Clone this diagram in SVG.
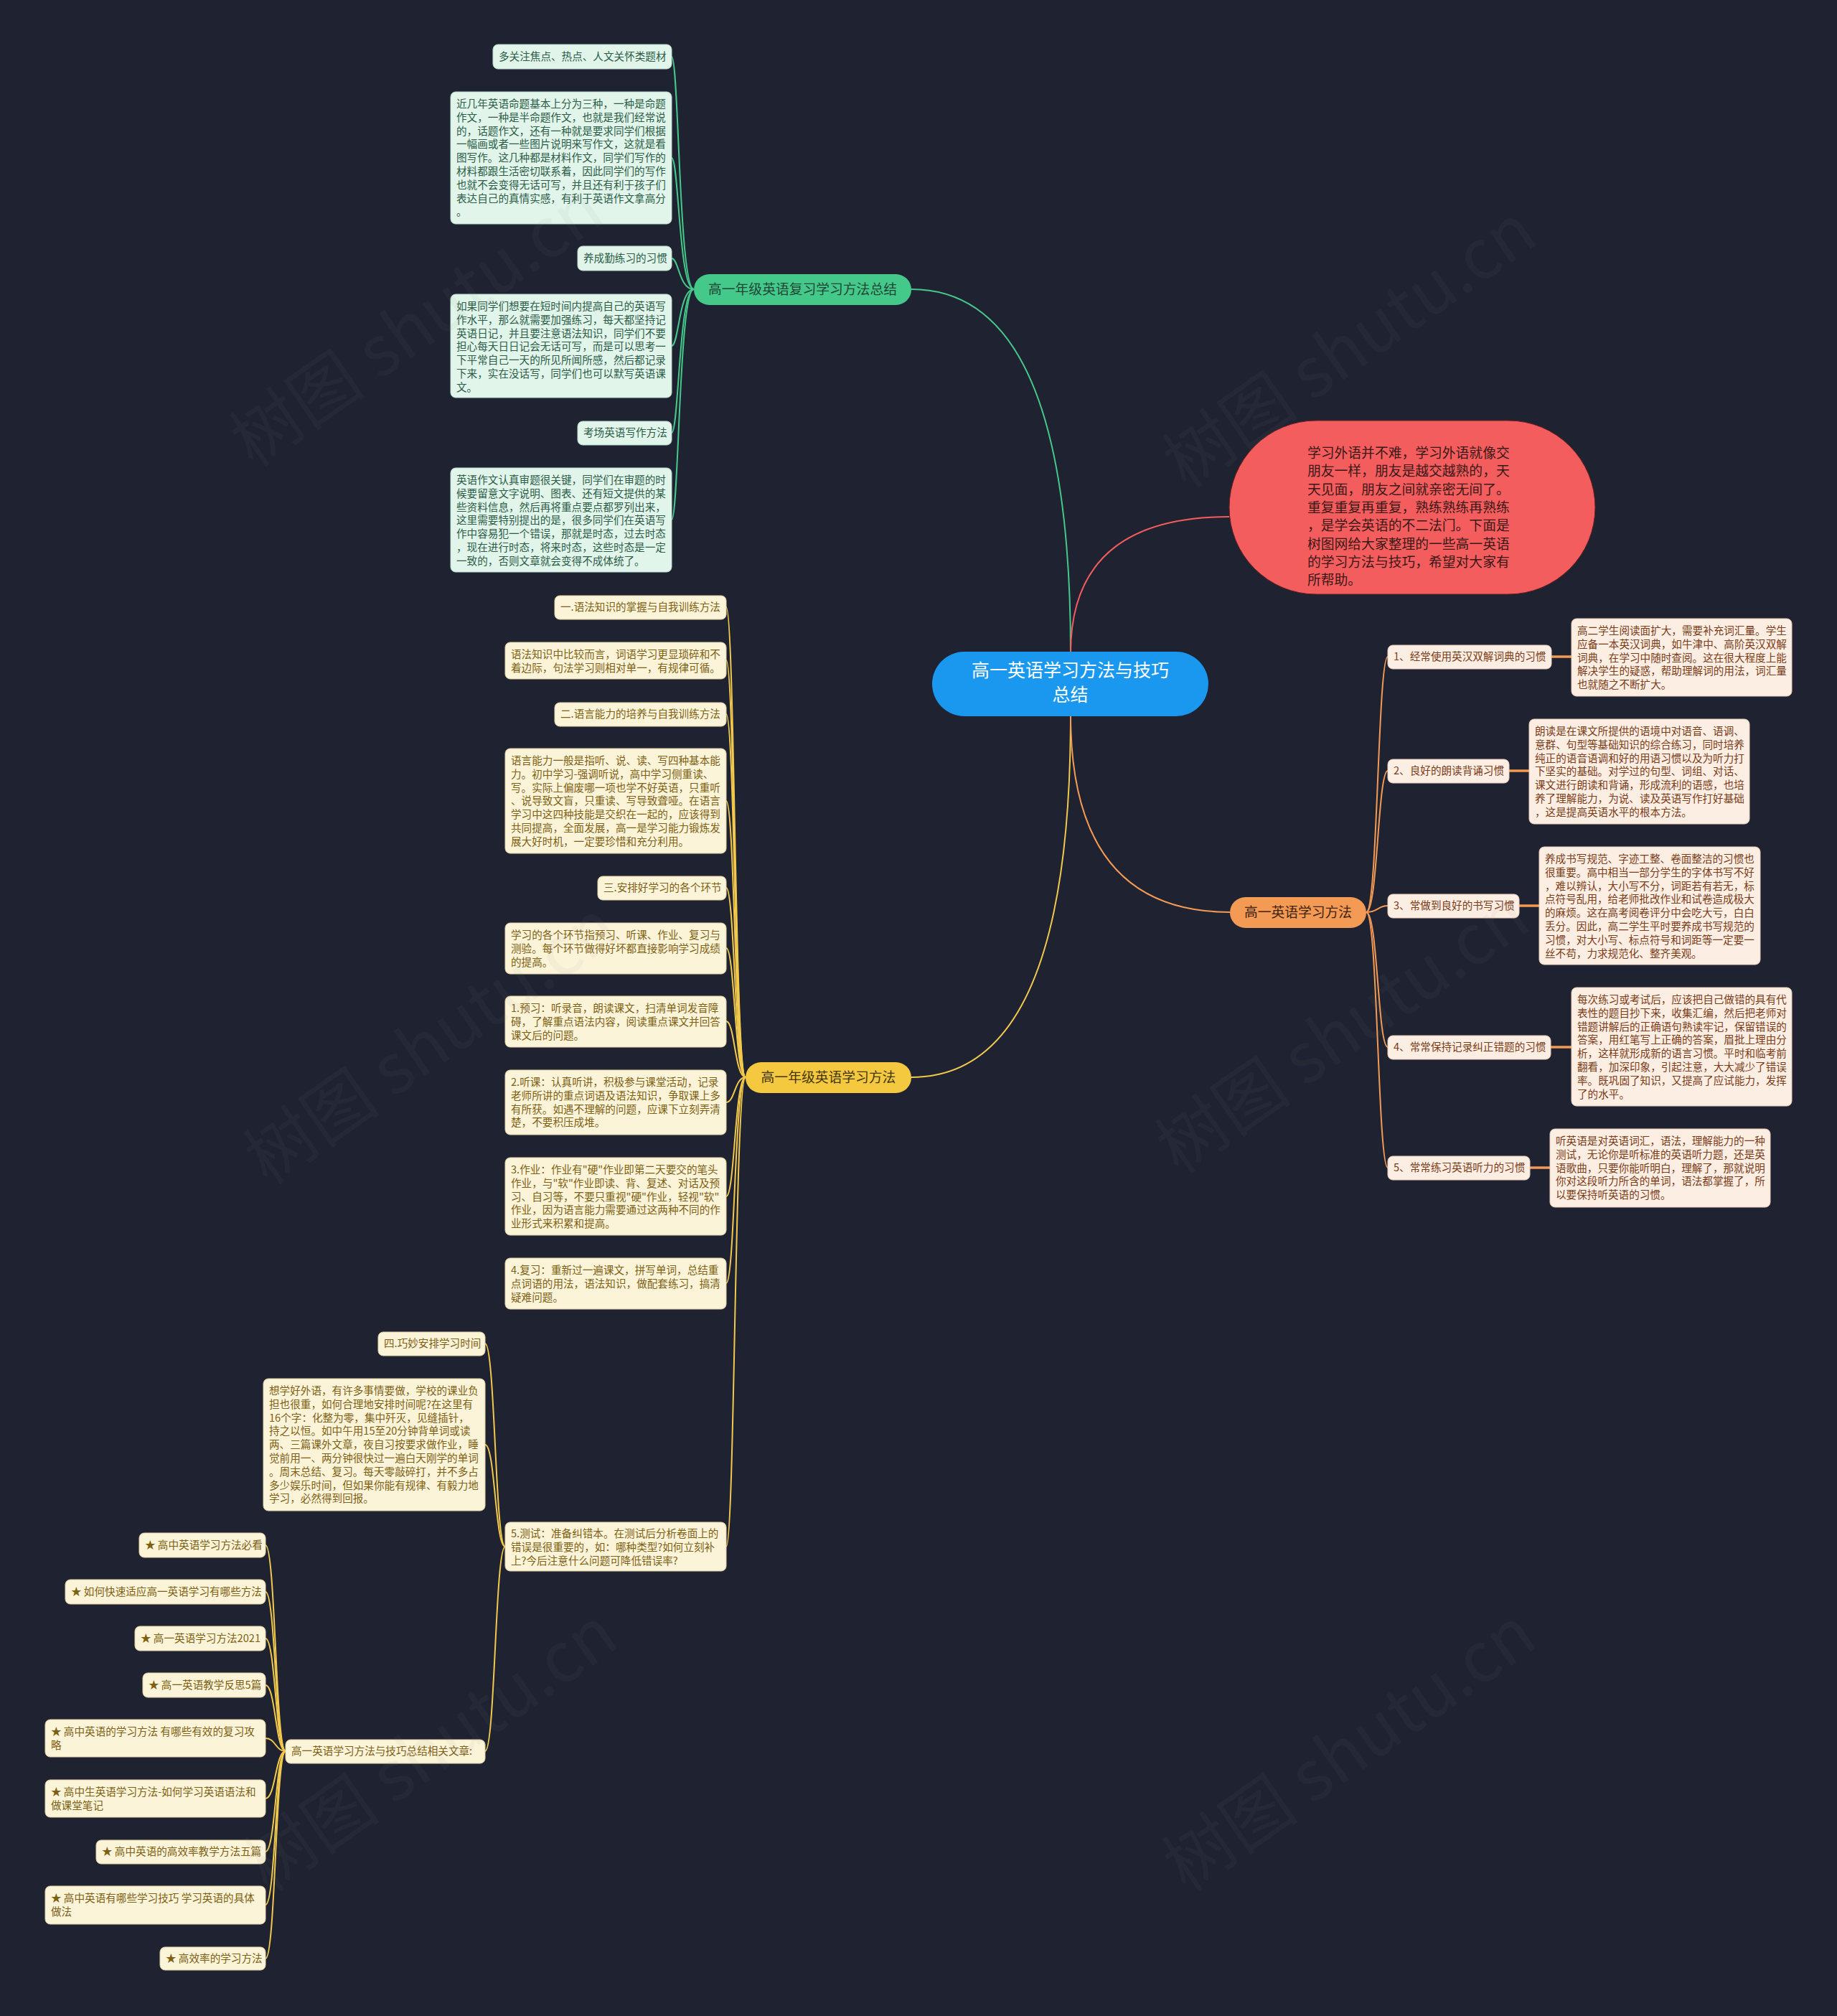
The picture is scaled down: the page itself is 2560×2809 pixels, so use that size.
<svg xmlns="http://www.w3.org/2000/svg" width="2560" height="2809" viewBox="0 0 2560 2809">
<style>
text{font-family:"Noto Sans CJK SC","Noto Sans",sans-serif;}
.t{font-size:14.6px;}
.gb{fill:#e1f5eb;stroke:#b9dccb;stroke-width:1}
.gt{fill:#2c5c47}
.yb{fill:#fcf4d9;stroke:#e2d3a4;stroke-width:1}
.yt{fill:#7d6012}
.ob{fill:#fdeee3;stroke:#e8cdb9;stroke-width:1}
.ot{fill:#7a3b17}
.gl{fill:none;stroke:#45c98b;stroke-width:2}
.yl{fill:none;stroke:#f2c94c;stroke-width:2}
.ol{fill:none;stroke:#f39a55;stroke-width:2}
.ol3{fill:none;stroke:#f39a55;stroke-width:3.5}
.rl{fill:none;stroke:#f25c5c;stroke-width:2}
.main{font-size:18.8px;text-anchor:middle}
.wm{font-size:96px;fill:#8a8a8a;opacity:0.06}
</style>
<rect x="0" y="0" width="2560" height="2809" fill="#1f2230"/>

<g id="connectors">
  <path class="gl" d="M1492,910 Q1492,403 1270,403"/>
  <path class="rl" d="M1492,910 Q1492,720 1713,720"/>
  <path class="yl" d="M1492,996 Q1492,1501 1270,1501"/>
  <path class="ol" d="M1492,996 Q1492,1271 1714,1271"/>
  <!-- green -->
  <path class="gl" d="M967,403 C946,403 946,79 936,79"/>
  <path class="gl" d="M967,403 C946,403 946,220 936,220"/>
  <path class="gl" d="M967,403 C946,403 946,360 936,360"/>
  <path class="gl" d="M967,403 C946,403 946,482 936,482"/>
  <path class="gl" d="M967,403 C946,403 946,603 936,603"/>
  <path class="gl" d="M967,403 C946,403 946,724 936,724"/>
  <!-- yellow -->
  <path class="yl" d="M1039,1501 C1024,1501 1024,846 1012,846"/>
  <path class="yl" d="M1039,1501 C1024,1501 1024,920 1012,920"/>
  <path class="yl" d="M1039,1501 C1024,1501 1024,995 1012,995"/>
  <path class="yl" d="M1039,1501 C1024,1501 1024,1116 1012,1116"/>
  <path class="yl" d="M1039,1501 C1024,1501 1024,1237 1012,1237"/>
  <path class="yl" d="M1039,1501 C1024,1501 1024,1321 1012,1321"/>
  <path class="yl" d="M1039,1501 C1024,1501 1024,1423 1012,1423"/>
  <path class="yl" d="M1039,1501 C1024,1501 1024,1536 1012,1536"/>
  <path class="yl" d="M1039,1501 C1024,1501 1024,1667 1012,1667"/>
  <path class="yl" d="M1039,1501 C1024,1501 1024,1788 1012,1788"/>
  <path class="yl" d="M1039,1501 C1024,1501 1024,2155 1012,2155"/>
  <path class="yl" d="M704,2155 C690,2155 690,1872 676,1872"/>
  <path class="yl" d="M704,2155 C690,2155 690,2013 676,2013"/>
  <path class="yl" d="M704,2155 C690,2155 690,2440 676,2440"/>
  <path class="yl" d="M398,2440 C384,2440 384,2153 370,2153"/>
  <path class="yl" d="M398,2440 C384,2440 384,2218 370,2218"/>
  <path class="yl" d="M398,2440 C384,2440 384,2283 370,2283"/>
  <path class="yl" d="M398,2440 C384,2440 384,2348 370,2348"/>
  <path class="yl" d="M398,2440 C384,2440 384,2422 370,2422"/>
  <path class="yl" d="M398,2440 C384,2440 384,2506 370,2506"/>
  <path class="yl" d="M398,2440 C384,2440 384,2580 370,2580"/>
  <path class="yl" d="M398,2440 C384,2440 384,2654 370,2654"/>
  <path class="yl" d="M398,2440 C384,2440 384,2729 370,2729"/>
  <!-- orange -->
  <path class="ol" d="M1904,1271 C1920,1271 1920,915 1934,915"/>
  <path class="ol" d="M1904,1271 C1920,1271 1920,1074 1934,1074"/>
  <path class="ol" d="M1904,1271 C1920,1271 1920,1262 1934,1262"/>
  <path class="ol" d="M1904,1271 C1920,1271 1920,1459 1934,1459"/>
  <path class="ol" d="M1904,1271 C1920,1271 1920,1627 1934,1627"/>
  <path class="ol3" d="M2162,915 L2190,915"/>
  <path class="ol3" d="M2103,1074 L2131,1074"/>
  <path class="ol3" d="M2117,1262 L2145,1262"/>
  <path class="ol3" d="M2161,1459 L2190,1459"/>
  <path class="ol3" d="M2132,1627 L2160,1627"/>
</g>

<g id="root">
  <rect x="1299" y="908" width="385" height="90" rx="45" fill="#1a98f0"/>
  <text x="1491.5" y="943" font-size="25" fill="#ffffff" text-anchor="middle">高一英语学习方法与技巧</text>
  <text x="1491.5" y="977" font-size="25" fill="#ffffff" text-anchor="middle">总结</text>
</g>

<g id="intro">
  <rect x="1713" y="586" width="510" height="242" rx="121" fill="#f45d5d" stroke="#6a1f24" stroke-width="1"/>
  <text font-size="18.8" fill="#3a1818">
    <tspan x="1822" y="638">学习外语并不难，学习外语就像交</tspan>
    <tspan x="1822" dy="25.3">朋友一样，朋友是越交越熟的，天</tspan>
    <tspan x="1822" dy="25.3">天见面，朋友之间就亲密无间了。</tspan>
    <tspan x="1822" dy="25.3">重复重复再重复，熟练熟练再熟练</tspan>
    <tspan x="1822" dy="25.3">，是学会英语的不二法门。下面是</tspan>
    <tspan x="1822" dy="25.3">树图网给大家整理的一些高一英语</tspan>
    <tspan x="1822" dy="25.3">的学习方法与技巧，希望对大家有</tspan>
    <tspan x="1822" dy="25.3">所帮助。</tspan>
  </text>
</g>

<g id="branch-green">
  <rect x="967" y="382" width="303" height="43" rx="21.5" fill="#45c98b"/>
  <text class="main" x="1118.5" y="410" fill="#1e4634">高一年级英语复习学习方法总结</text>
</g>
<g id="g1"><rect class="gb" x="687" y="62" width="249" height="34" rx="7"/><text class="t gt" x="695" y="84">多关注焦点、热点、人文关怀类题材</text></g>
<g id="g2"><rect class="gb" x="628" y="128" width="308" height="184" rx="7"/>
  <text class="t gt"><tspan x="636" y="150">近几年英语命题基本上分为三种，一种是命题</tspan><tspan x="636" dy="18.8">作文，一种是半命题作文，也就是我们经常说</tspan><tspan x="636" dy="18.8">的，话题作文，还有一种就是要求同学们根据</tspan><tspan x="636" dy="18.8">一幅画或者一些图片说明来写作文，这就是看</tspan><tspan x="636" dy="18.8">图写作。这几种都是材料作文，同学们写作的</tspan><tspan x="636" dy="18.8">材料都跟生活密切联系着，因此同学们的写作</tspan><tspan x="636" dy="18.8">也就不会变得无话可写，并且还有利于孩子们</tspan><tspan x="636" dy="18.8">表达自己的真情实感，有利于英语作文拿高分</tspan><tspan x="636" dy="18.8">。</tspan></text></g>
<g id="g3"><rect class="gb" x="805" y="343" width="131" height="34" rx="7"/><text class="t gt" x="813" y="365">养成勤练习的习惯</text></g>
<g id="g4"><rect class="gb" x="628" y="410" width="308" height="144" rx="7"/>
  <text class="t gt"><tspan x="636" y="432">如果同学们想要在短时间内提高自己的英语写</tspan><tspan x="636" dy="18.8">作水平，那么就需要加强练习，每天都坚持记</tspan><tspan x="636" dy="18.8">英语日记，并且要注意语法知识，同学们不要</tspan><tspan x="636" dy="18.8">担心每天日日记会无话可写，而是可以思考一</tspan><tspan x="636" dy="18.8">下平常自己一天的所见所闻所感，然后都记录</tspan><tspan x="636" dy="18.8">下来，实在没话写，同学们也可以默写英语课</tspan><tspan x="636" dy="18.8">文。</tspan></text></g>
<g id="g5"><rect class="gb" x="805" y="587" width="131" height="33" rx="7"/><text class="t gt" x="813" y="608">考场英语写作方法</text></g>
<g id="g6"><rect class="gb" x="628" y="652" width="308" height="145" rx="7"/>
  <text class="t gt"><tspan x="636" y="674">英语作文认真审题很关键，同学们在审题的时</tspan><tspan x="636" dy="18.8">候要留意文字说明、图表、还有短文提供的某</tspan><tspan x="636" dy="18.8">些资料信息，然后再将重点要点都罗列出来，</tspan><tspan x="636" dy="18.8">这里需要特别提出的是，很多同学们在英语写</tspan><tspan x="636" dy="18.8">作中容易犯一个错误，那就是时态，过去时态</tspan><tspan x="636" dy="18.8">，现在进行时态，将来时态，这些时态是一定</tspan><tspan x="636" dy="18.8">一致的，否则文章就会变得不成体统了。</tspan></text></g>

<g id="branch-yellow">
  <rect x="1039" y="1480" width="231" height="43" rx="21.5" fill="#f5c93f"/>
  <text class="main" x="1154.5" y="1508" fill="#43350a">高一年级英语学习方法</text>
</g>
<g id="y1"><rect class="yb" x="773" y="830" width="239" height="33" rx="7"/><text class="t yt" x="781" y="851">一.语法知识的掌握与自我训练方法</text></g>
<g id="y2"><rect class="yb" x="704" y="895" width="308" height="51" rx="7"/>
  <text class="t yt"><tspan x="712" y="917">语法知识中比较而言，词语学习更显琐碎和不</tspan><tspan x="712" dy="18.8">着边际，句法学习则相对单一，有规律可循。</tspan></text></g>
<g id="y3"><rect class="yb" x="773" y="979" width="239" height="33" rx="7"/><text class="t yt" x="781" y="1000">二.语言能力的培养与自我训练方法</text></g>
<g id="y4"><rect class="yb" x="704" y="1043" width="308" height="146" rx="7"/>
  <text class="t yt"><tspan x="712" y="1065">语言能力一般是指听、说、读、写四种基本能</tspan><tspan x="712" dy="18.8">力。初中学习-强调听说，高中学习侧重读、</tspan><tspan x="712" dy="18.8">写。实际上偏废哪一项也学不好英语，只重听</tspan><tspan x="712" dy="18.8">、说导致文盲，只重读、写导致聋哑。在语言</tspan><tspan x="712" dy="18.8">学习中这四种技能是交织在一起的，应该得到</tspan><tspan x="712" dy="18.8">共同提高，全面发展，高一是学习能力锻炼发</tspan><tspan x="712" dy="18.8">展大好时机，一定要珍惜和充分利用。</tspan></text></g>
<g id="y5"><rect class="yb" x="833" y="1221" width="179" height="33" rx="7"/><text class="t yt" x="841" y="1242">三.安排好学习的各个环节</text></g>
<g id="y6"><rect class="yb" x="704" y="1286" width="308" height="71" rx="7"/>
  <text class="t yt"><tspan x="712" y="1308">学习的各个环节指预习、听课、作业、复习与</tspan><tspan x="712" dy="18.8">测验。每个环节做得好坏都直接影响学习成绩</tspan><tspan x="712" dy="18.8">的提高。</tspan></text></g>
<g id="y7"><rect class="yb" x="704" y="1388" width="308" height="71" rx="7"/>
  <text class="t yt"><tspan x="712" y="1410">1.预习：听录音，朗读课文，扫清单词发音障</tspan><tspan x="712" dy="18.8">碍，了解重点语法内容，阅读重点课文并回答</tspan><tspan x="712" dy="18.8">课文后的问题。</tspan></text></g>
<g id="y8"><rect class="yb" x="704" y="1491" width="308" height="90" rx="7"/>
  <text class="t yt"><tspan x="712" y="1513">2.听课：认真听讲，积极参与课堂活动，记录</tspan><tspan x="712" dy="18.8">老师所讲的重点词语及语法知识，争取课上多</tspan><tspan x="712" dy="18.8">有所获。如遇不理解的问题，应课下立刻弄清</tspan><tspan x="712" dy="18.8">楚，不要积压成堆。</tspan></text></g>
<g id="y9"><rect class="yb" x="704" y="1613" width="308" height="108" rx="7"/>
  <text class="t yt"><tspan x="712" y="1635">3.作业：作业有"硬"作业即第二天要交的笔头</tspan><tspan x="712" dy="18.8">作业，与"软"作业即读、背、复述、对话及预</tspan><tspan x="712" dy="18.8">习、自习等，不要只重视"硬"作业，轻视"软"</tspan><tspan x="712" dy="18.8">作业，因为语言能力需要通过这两种不同的作</tspan><tspan x="712" dy="18.8">业形式来积累和提高。</tspan></text></g>
<g id="y10"><rect class="yb" x="704" y="1753" width="308" height="71" rx="7"/>
  <text class="t yt"><tspan x="712" y="1775">4.复习：重新过一遍课文，拼写单词，总结重</tspan><tspan x="712" dy="18.8">点词语的用法，语法知识，做配套练习，搞清</tspan><tspan x="712" dy="18.8">疑难问题。</tspan></text></g>
<g id="y11"><rect class="yb" x="704" y="2121" width="308" height="68" rx="7"/>
  <text class="t yt"><tspan x="712" y="2142">5.测试：准备纠错本。在测试后分析卷面上的</tspan><tspan x="712" dy="18.8">错误是很重要的，如：哪种类型?如何立刻补</tspan><tspan x="712" dy="18.8">上?今后注意什么问题可降低错误率?</tspan></text></g>
<g id="y12"><rect class="yb" x="527" y="1856" width="149" height="33" rx="7"/><text class="t yt" x="535" y="1877">四.巧妙安排学习时间</text></g>
<g id="y13"><rect class="yb" x="367" y="1921" width="309" height="184" rx="7"/>
  <text class="t yt"><tspan x="375" y="1943">想学好外语，有许多事情要做，学校的课业负</tspan><tspan x="375" dy="18.8">担也很重，如何合理地安排时间呢?在这里有</tspan><tspan x="375" dy="18.8">16个字：化整为零，集中歼灭，见缝插针，</tspan><tspan x="375" dy="18.8">持之以恒。如中午用15至20分钟背单词或读</tspan><tspan x="375" dy="18.8">两、三篇课外文章，夜自习按要求做作业，睡</tspan><tspan x="375" dy="18.8">觉前用一、两分钟很快过一遍白天刚学的单词</tspan><tspan x="375" dy="18.8">。周末总结、复习。每天零敲碎打，并不多占</tspan><tspan x="375" dy="18.8">多少娱乐时间，但如果你能有规律、有毅力地</tspan><tspan x="375" dy="18.8">学习，必然得到回报。</tspan></text></g>
<g id="y14"><rect class="yb" x="398" y="2424" width="278" height="33" rx="7"/><text class="t yt" x="406" y="2445">高一英语学习方法与技巧总结相关文章:</text></g>
<g id="s1"><rect class="yb" x="194" y="2136" width="176" height="34" rx="7"/><text class="t yt" x="202" y="2158">★ 高中英语学习方法必看</text></g>
<g id="s2"><rect class="yb" x="91" y="2201" width="279" height="34" rx="7"/><text class="t yt" x="99" y="2223">★ 如何快速适应高一英语学习有哪些方法</text></g>
<g id="s3"><rect class="yb" x="188" y="2266" width="182" height="34" rx="7"/><text class="t yt" x="196" y="2288">★ 高一英语学习方法2021</text></g>
<g id="s4"><rect class="yb" x="199" y="2331" width="171" height="34" rx="7"/><text class="t yt" x="207" y="2353">★ 高一英语教学反思5篇</text></g>
<g id="s5"><rect class="yb" x="63" y="2396" width="307" height="52" rx="7"/>
  <text class="t yt"><tspan x="71" y="2418">★ 高中英语的学习方法 有哪些有效的复习攻</tspan><tspan x="71" dy="18.8">略</tspan></text></g>
<g id="s6"><rect class="yb" x="63" y="2480" width="307" height="52" rx="7"/>
  <text class="t yt"><tspan x="71" y="2502">★ 高中生英语学习方法-如何学习英语语法和</tspan><tspan x="71" dy="18.8">做课堂笔记</tspan></text></g>
<g id="s7"><rect class="yb" x="134" y="2564" width="236" height="33" rx="7"/><text class="t yt" x="142" y="2585">★ 高中英语的高效率教学方法五篇</text></g>
<g id="s8"><rect class="yb" x="63" y="2628" width="307" height="53" rx="7"/>
  <text class="t yt"><tspan x="71" y="2650">★ 高中英语有哪些学习技巧 学习英语的具体</tspan><tspan x="71" dy="18.8">做法</tspan></text></g>
<g id="s9"><rect class="yb" x="223" y="2713" width="147" height="32" rx="7"/><text class="t yt" x="231" y="2734">★ 高效率的学习方法</text></g>

<g id="branch-orange">
  <rect x="1714" y="1250" width="190" height="43" rx="21.5" fill="#f39a55"/>
  <text class="main" x="1809" y="1278" fill="#40220c">高一英语学习方法</text>
</g>
<g id="o1"><rect class="ob" x="1934" y="899" width="228" height="33" rx="7"/><text class="t ot" x="1942" y="920">1、经常使用英汉双解词典的习惯</text></g>
<g id="o1d"><rect class="ob" x="2190" y="862" width="307" height="108" rx="7"/>
  <text class="t ot"><tspan x="2198" y="884">高二学生阅读面扩大，需要补充词汇量。学生</tspan><tspan x="2198" dy="18.8">应备一本英汉词典，如牛津中、高阶英汉双解</tspan><tspan x="2198" dy="18.8">词典，在学习中随时查阅。这在很大程度上能</tspan><tspan x="2198" dy="18.8">解决学生的疑惑，帮助理解词的用法，词汇量</tspan><tspan x="2198" dy="18.8">也就随之不断扩大。</tspan></text></g>
<g id="o2"><rect class="ob" x="1934" y="1058" width="169" height="33" rx="7"/><text class="t ot" x="1942" y="1079">2、良好的朗读背诵习惯</text></g>
<g id="o2d"><rect class="ob" x="2131" y="1002" width="307" height="146" rx="7"/>
  <text class="t ot"><tspan x="2139" y="1024">朗读是在课文所提供的语境中对语音、语调、</tspan><tspan x="2139" dy="18.8">意群、句型等基础知识的综合练习，同时培养</tspan><tspan x="2139" dy="18.8">纯正的语音语调和好的用语习惯以及为听力打</tspan><tspan x="2139" dy="18.8">下坚实的基础。对学过的句型、词组、对话、</tspan><tspan x="2139" dy="18.8">课文进行朗读和背诵，形成流利的语感，也培</tspan><tspan x="2139" dy="18.8">养了理解能力，为说、读及英语写作打好基础</tspan><tspan x="2139" dy="18.8">，这是提高英语水平的根本方法。</tspan></text></g>
<g id="o3"><rect class="ob" x="1934" y="1246" width="183" height="33" rx="7"/><text class="t ot" x="1942" y="1267">3、常做到良好的书写习惯</text></g>
<g id="o3d"><rect class="ob" x="2145" y="1180" width="308" height="164" rx="7"/>
  <text class="t ot"><tspan x="2153" y="1202">养成书写规范、字迹工整、卷面整洁的习惯也</tspan><tspan x="2153" dy="18.8">很重要。高中相当一部分学生的字体书写不好</tspan><tspan x="2153" dy="18.8">，难以辨认，大小写不分，词距若有若无，标</tspan><tspan x="2153" dy="18.8">点符号乱用，给老师批改作业和试卷造成极大</tspan><tspan x="2153" dy="18.8">的麻烦。这在高考阅卷评分中会吃大亏，白白</tspan><tspan x="2153" dy="18.8">丢分。因此，高二学生平时要养成书写规范的</tspan><tspan x="2153" dy="18.8">习惯，对大小写、标点符号和词距等一定要一</tspan><tspan x="2153" dy="18.8">丝不苟，力求规范化、整齐美观。</tspan></text></g>
<g id="o4"><rect class="ob" x="1934" y="1443" width="227" height="33" rx="7"/><text class="t ot" x="1942" y="1464">4、常常保持记录纠正错题的习惯</text></g>
<g id="o4d"><rect class="ob" x="2190" y="1376" width="307" height="165" rx="7"/>
  <text class="t ot"><tspan x="2198" y="1398">每次练习或考试后，应该把自己做错的具有代</tspan><tspan x="2198" dy="18.8">表性的题目抄下来，收集汇编，然后把老师对</tspan><tspan x="2198" dy="18.8">错题讲解后的正确语句熟读牢记，保留错误的</tspan><tspan x="2198" dy="18.8">答案，用红笔写上正确的答案，眉批上理由分</tspan><tspan x="2198" dy="18.8">析，这样就形成新的语言习惯。平时和临考前</tspan><tspan x="2198" dy="18.8">翻看，加深印象，引起注意，大大减少了错误</tspan><tspan x="2198" dy="18.8">率。既巩固了知识，又提高了应试能力，发挥</tspan><tspan x="2198" dy="18.8">了的水平。</tspan></text></g>
<g id="o5"><rect class="ob" x="1934" y="1611" width="198" height="33" rx="7"/><text class="t ot" x="1942" y="1632">5、常常练习英语听力的习惯</text></g>
<g id="o5d"><rect class="ob" x="2160" y="1573" width="307" height="109" rx="7"/>
  <text class="t ot"><tspan x="2168" y="1595">听英语是对英语词汇，语法，理解能力的一种</tspan><tspan x="2168" dy="18.8">测试，无论你是听标准的英语听力题，还是英</tspan><tspan x="2168" dy="18.8">语歌曲，只要你能听明白，理解了，那就说明</tspan><tspan x="2168" dy="18.8">你对这段听力所含的单词，语法都掌握了，所</tspan><tspan x="2168" dy="18.8">以要保持听英语的习惯。</tspan></text></g>

<g id="watermark">
  <text class="wm" text-anchor="middle" transform="translate(600,480) rotate(-35)">树图 shutu.cn</text>
  <text class="wm" text-anchor="middle" transform="translate(1900,510) rotate(-35)">树图 shutu.cn</text>
  <text class="wm" text-anchor="middle" transform="translate(620,1480) rotate(-35)">树图 shutu.cn</text>
  <text class="wm" text-anchor="middle" transform="translate(1890,1465) rotate(-35)">树图 shutu.cn</text>
  <text class="wm" text-anchor="middle" transform="translate(620,2465) rotate(-35)">树图 shutu.cn</text>
  <text class="wm" text-anchor="middle" transform="translate(1900,2465) rotate(-35)">树图 shutu.cn</text>
</g>
</svg>
